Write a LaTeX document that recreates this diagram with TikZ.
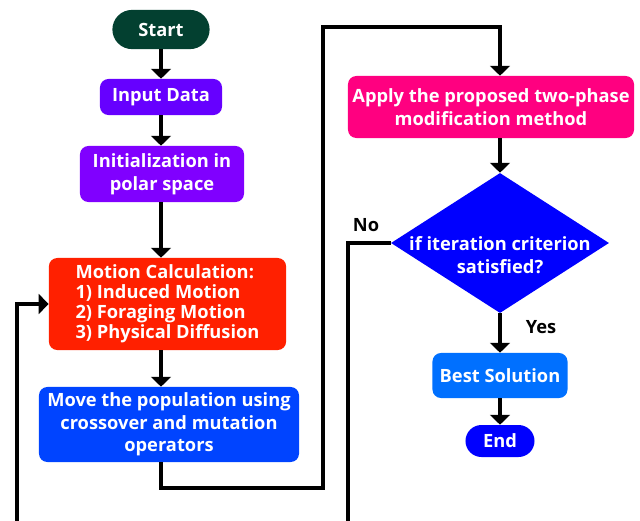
\documentclass[tikz,border=0pt]{standalone}
\usepackage{fontspec}
\setmainfont{Open Sans}
\usetikzlibrary{arrows.meta, shapes.geometric}

\definecolor{startgreen}{RGB}{3,64,48}
\definecolor{inputviolet}{RGB}{102,0,255}
\definecolor{initviolet}{RGB}{128,0,255}
\definecolor{motionred}{RGB}{255,32,0}
\definecolor{moveblue}{RGB}{0,68,255}
\definecolor{applypink}{RGB}{255,0,128}
\definecolor{decblue}{RGB}{0,0,255}
\definecolor{bestblue}{RGB}{0,112,255}

\tikzset{
	box/.style={rounded corners=6pt, text=white, font=\bfseries\fontsize{13}{16}\selectfont, align=center, inner sep=2pt},
	arr/.style={line width=2.2pt, -{Triangle[width=14pt,length=7pt]}},
	lbl/.style={font=\bfseries\fontsize{13}{16}\selectfont}
}

\begin{document}
\begin{tikzpicture}[x=0.025cm, y=-0.025cm]

	\useasboundingbox (0,0) rectangle (640,521);

	\node[box, fill=startgreen, minimum width=2.43cm, minimum height=0.98cm, rounded corners=0.49cm] (start) at (161,29.5) {Start};
	\node[box, fill=inputviolet, minimum width=3.05cm, minimum height=0.9cm] (input) at (161,97) {Input Data};
	\node[box, fill=initviolet, minimum width=4.1cm, minimum height=1.4cm] (init) at (162,174) {Initialization in\\polar space};
	\node[box, fill=motionred, minimum width=5.93cm, minimum height=2.3cm, align=left, font=\bfseries\fontsize{13}{14.3}\selectfont] (motion) at (167.5,304) {Motion Calculation:\\1) Induced Motion\\2) Foraging Motion\\3) Physical Diffusion};
	\node[box, fill=moveblue, minimum width=6.5cm, minimum height=1.875cm] (move) at (169,424.5) {Move the population using\\crossover and mutation\\operators};

	\node[box, fill=applypink, minimum width=7.15cm, minimum height=1.55cm] (apply) at (491,107) {Apply the proposed two-phase\\modification method};
	\node[diamond, fill=decblue, inner sep=0pt, minimum width=5.45cm, minimum height=3.5cm,
		label={[text=white, font=\bfseries\fontsize{13}{16}\selectfont, align=center, yshift=-0.3cm]center:if iteration criterion\\satisfied?}] (dec) at (500,243) {};
	\node[box, fill=bestblue, minimum width=3.375cm, minimum height=1.125cm] (best) at (500,375.5) {Best Solution};
	\node[box, fill=decblue, minimum width=1.725cm, minimum height=0.8cm, rounded corners=0.4cm] (end) at (500,441) {End};

	\node[lbl] (no) at (366,225) {No};
	\node[lbl] (yes) at (541,327) {Yes};

	\coordinate (c1) at (323,488);
	\coordinate (c2) at (323,27);
	\coordinate (noend) at (348,525);
	\coordinate (loopstart) at (17,525);

	\draw[arr] (start) -- (input);
	\draw[arr] (input) -- (init.north -| input);
	\draw[arr] (init.south -| input) -- (motion.north -| input);
	\draw[arr] (motion.south -| input) -- (move.north -| input);
	\draw[arr] (move.south -| input) |- (c1) -- (c2) -| (apply.north -| dec);
	\draw[arr] (apply.south -| dec) -- (dec.north);
	\draw[arr] (dec.south) -- (best);
	\draw[arr] (best) -- (end);
	\draw[line width=2.2pt] (dec.west) -| (noend);
	\draw[arr] (loopstart) |- (motion.west);

\end{tikzpicture}
\end{document}
